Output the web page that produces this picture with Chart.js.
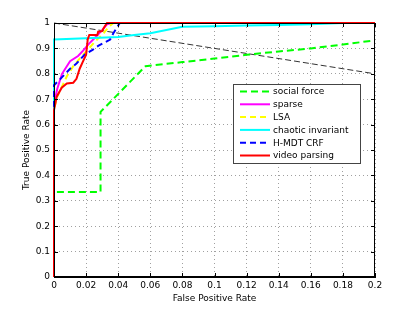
<!DOCTYPE html>
<html>
<head>
<meta charset="utf-8">
<script src="https://cdn.jsdelivr.net/npm/chart.js@4.4.0/dist/chart.umd.min.js"></script>
<style>
  html, body { margin: 0; padding: 0; background: #fff; }
  #wrap { width: 415px; height: 311px; }
</style>
</head>
<body>
<div id="wrap"><canvas id="roc"></canvas></div>
<script>
// ROC curves (false positive rate / true positive rate)
const xTicks = [0, 0.02, 0.04, 0.06, 0.08, 0.1, 0.12, 0.14, 0.16, 0.18, 0.2];
const yTicks = [0, 0.1, 0.2, 0.3, 0.4, 0.5, 0.6, 0.7, 0.8, 0.9, 1];

const socialX = [0, 0, 0.029, 0.029, 0.057, 0.08, 0.1, 0.12, 0.14, 0.16, 0.18, 0.2];
const socialY = [0, 0.335, 0.335, 0.65, 0.83, 0.846, 0.86, 0.875, 0.888, 0.9, 0.915, 0.932];

const sparseX = [0, 0, 0.002, 0.005, 0.01, 0.015, 0.018, 0.022, 0.026, 0.03, 0.033, 0.036, 0.2];
const sparseY = [0, 0.68, 0.74, 0.8, 0.85, 0.87, 0.89, 0.92, 0.945, 0.972, 0.995, 1, 1];

const lsaX = [0, 0, 0.002, 0.005, 0.008, 0.012, 0.016, 0.021, 0.026, 0.031, 0.034, 0.037, 0.2];
const lsaY = [0, 0.66, 0.71, 0.75, 0.79, 0.83, 0.86, 0.895, 0.93, 0.96, 0.985, 1, 1];

const chaoticX = [0, 0, 0.02, 0.04, 0.05, 0.06, 0.08, 0.1, 0.12, 0.14, 0.16, 0.18, 0.2];
const chaoticY = [0, 0.935, 0.94, 0.945, 0.953, 0.96, 0.985, 0.987, 0.99, 0.992, 0.995, 1, 1];

const hmdtX = [0, 0, 0.004, 0.01, 0.014, 0.019, 0.024, 0.0275, 0.035, 0.037, 0.04, 0.041, 0.2];
const hmdtY = [0, 0.755, 0.78, 0.82, 0.84, 0.875, 0.894, 0.91, 0.935, 0.96, 0.99, 1, 1];

const videoX = [0, 0, 0.0017, 0.0048, 0.008, 0.012, 0.014, 0.016, 0.018, 0.02, 0.021, 0.022, 0.027, 0.0275, 0.03, 0.031, 0.033, 0.2];
const videoY = [0, 0.657, 0.71, 0.745, 0.762, 0.765, 0.78, 0.82, 0.848, 0.875, 0.935, 0.953, 0.953, 0.966, 0.968, 0.98, 1, 1];

const chanceX = [0, 0.2];
const chanceY = [1, 0.8];

const FONT = 'DejaVu Sans';

function pts(xs, ys) {
    return xs.map((x, i) => ({ x: x, y: ys[i] }));
}

function series(label, xs, ys, color, dash, order, width) {
    return {
        label: label,
        data: pts(xs, ys),
        borderColor: color,
        backgroundColor: color,
        borderWidth: width || 2,
        borderDash: dash,
        showLine: true,
        pointRadius: 0,
        fill: false,
        tension: 0,
        clip: 4,
        order: order
    };
}

const datasets = [
    series('social force', socialX, socialY, '#00ff00', [7, 4], 6),
    series('sparse', sparseX, sparseY, '#ff00ff', [], 5),
    series('LSA', lsaX, lsaY, '#ffff00', [6, 4], 4),
    series('chaotic invariant', chaoticX, chaoticY, '#00ffff', [], 3),
    series('H-MDT CRF', hmdtX, hmdtY, '#0000ff', [6, 4], 2),
    series('video parsing', videoX, videoY, '#ff0000', [], 1),
    series('', chanceX, chanceY, '#333333', [6, 3], 7, 1)
];

// frame, inward ticks and legend box like the matlab figure
const matlabBox = {
    id: 'matlabBox',
    afterDatasetsDraw(chart) {
        const ctx = chart.ctx;
        const a = chart.chartArea;
        const xs = chart.scales.x, ys = chart.scales.y;
        ctx.save();
        ctx.strokeStyle = '#000';
        ctx.lineWidth = 1;
        ctx.strokeRect(a.left + 0.5, a.top + 0.5, a.right - a.left - 1, a.bottom - a.top - 1);
        ctx.beginPath();
        xTicks.forEach(v => {
            const px = Math.round(xs.getPixelForValue(v)) + 0.5;
            ctx.moveTo(px, a.bottom); ctx.lineTo(px, a.bottom - 4);
            ctx.moveTo(px, a.top); ctx.lineTo(px, a.top + 4);
        });
        yTicks.forEach(v => {
            const py = Math.round(ys.getPixelForValue(v)) + 0.5;
            ctx.moveTo(a.left, py); ctx.lineTo(a.left + 4, py);
            ctx.moveTo(a.right, py); ctx.lineTo(a.right - 4, py);
        });
        ctx.stroke();

        // legend
        const bx = 233, by = 84, bw = 127, bh = 79, rowH = 12.8;
        ctx.fillStyle = '#fff';
        ctx.fillRect(bx, by, bw, bh);
        ctx.strokeStyle = '#444';
        ctx.strokeRect(bx + 0.5, by + 0.5, bw, bh);
        ctx.font = '9px "' + FONT + '"';
        ctx.textBaseline = 'middle';
        ctx.textAlign = 'left';
        chart.data.datasets.forEach((ds, i) => {
            if (!ds.label) return;
            const y = by + 7.5 + i * rowH;
            ctx.beginPath();
            ctx.strokeStyle = ds.borderColor;
            ctx.lineWidth = 2;
            ctx.setLineDash(ds.borderDash);
            ctx.moveTo(240, y); ctx.lineTo(270, y);
            ctx.stroke();
            ctx.setLineDash([]);
            ctx.fillStyle = '#000';
            ctx.fillText(ds.label, 273, y + 0.5);
        });
        ctx.restore();
    }
};

new Chart(document.getElementById('roc'), {
    type: 'scatter',
    data: { datasets: datasets },
    options: {
        responsive: true,
        maintainAspectRatio: false,
        animation: false,
        layout: { padding: { top: 23, right: 40, left: 0, bottom: 0 } },
        plugins: {
            legend: { display: false },
            tooltip: { enabled: false }
        },
        scales: {
            x: {
                type: 'linear',
                min: 0,
                max: 0.2,
                afterBuildTicks(scale) { scale.ticks = xTicks.map(v => ({ value: v })); },
                afterFit(scale) { scale.height = 34; },
                ticks: {
                    color: '#000',
                    font: { family: FONT, size: 9 },
                    padding: 3,
                    maxRotation: 0,
                    autoSkip: false,
                    callback: v => String(Math.round(v * 100) / 100)
                },
                grid: {
                    color: '#a0a0a0',
                    drawTicks: false
                },
                border: { display: true, color: '#000', dash: [1, 3] },
                title: {
                    display: true,
                    text: 'False Positive Rate',
                    color: '#000',
                    font: { family: FONT, size: 9 },
                    padding: { top: 0, bottom: 7 }
                }
            },
            y: {
                type: 'linear',
                min: 0,
                max: 1,
                afterBuildTicks(scale) { scale.ticks = yTicks.map(v => ({ value: v })); },
                afterFit(scale) { scale.width = 54; },
                ticks: {
                    color: '#000',
                    font: { family: FONT, size: 9 },
                    padding: 4,
                    autoSkip: false,
                    callback: v => String(Math.round(v * 10) / 10)
                },
                grid: {
                    color: '#a0a0a0',
                    drawTicks: false
                },
                border: { display: true, color: '#000', dash: [1, 3] },
                title: {
                    display: true,
                    text: 'True Positive Rate',
                    color: '#000',
                    font: { family: FONT, size: 9 },
                    padding: { top: 21, bottom: 0 }
                }
            }
        }
    },
    plugins: [matlabBox]
});
</script>
</body>
</html>
